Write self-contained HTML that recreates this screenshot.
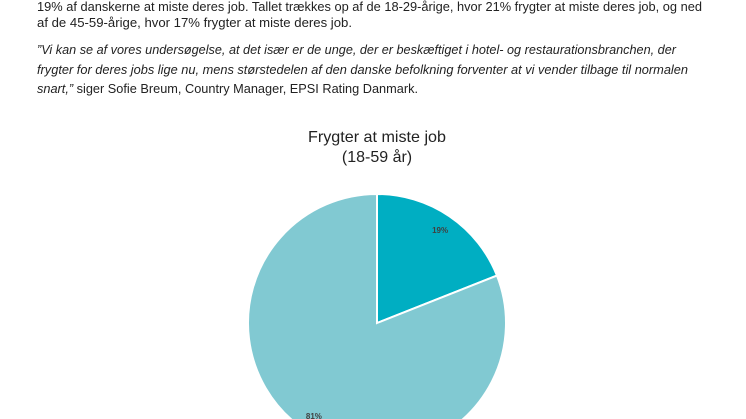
<!DOCTYPE html>
<html><head><meta charset="utf-8"><style>
html,body{margin:0;padding:0;background:#fff;width:746px;height:419px;overflow:hidden;}
svg{display:block;font-family:"Liberation Sans",sans-serif;}
</style></head><body>
<svg width="746" height="419" viewBox="0 0 746 419">
<g fill="#222" font-size="13">
<text x="37" y="11" textLength="665" lengthAdjust="spacingAndGlyphs">19% af danskerne at miste deres job. Tallet trækkes op af de 18-29-årige, hvor 21% frygter at miste deres job, og ned</text>
<text x="37" y="27" textLength="315" lengthAdjust="spacingAndGlyphs">af de 45-59-årige, hvor 17% frygter at miste deres job.</text>
<text x="37" y="54" font-style="italic" textLength="639" lengthAdjust="spacingAndGlyphs">”Vi kan se af vores undersøgelse, at det især er de unge, der er beskæftiget i hotel- og restaurationsbranchen, der</text>
<text x="37" y="74" font-style="italic" textLength="651" lengthAdjust="spacingAndGlyphs">frygter for deres jobs lige nu, mens størstedelen af den danske befolkning forventer at vi vender tilbage til normalen</text>
<text x="37" y="93" textLength="381" lengthAdjust="spacingAndGlyphs"><tspan font-style="italic">snart,”</tspan> siger Sofie Breum, Country Manager, EPSI Rating Danmark.</text>
</g>
<g fill="#222" font-size="16" text-anchor="middle">
<text x="377" y="142" textLength="138" lengthAdjust="spacingAndGlyphs">Frygter at miste job</text>
<text x="377" y="162">(18-59 år)</text>
</g>
<g id="pie"></g>
</svg>
<script>
const categories = ["Frygter", "Frygter ikke"];
const values = [19, 81];
const labels = ["19%", "81%"];
const colors = ["#00aec2", "#81c9d2"];
const cx = 377, cy = 323, r = 129;
const g = document.getElementById('pie');
const ns = 'http://www.w3.org/2000/svg';
const total = values.reduce((a, b) => a + b, 0);
let start = 0;
values.forEach((v, i) => {
  const a0 = start / total * 2 * Math.PI, a1 = (start + v) / total * 2 * Math.PI;
  const x0 = cx + r * Math.sin(a0), y0 = cy - r * Math.cos(a0);
  const x1 = cx + r * Math.sin(a1), y1 = cy - r * Math.cos(a1);
  const large = (a1 - a0) > Math.PI ? 1 : 0;
  const p = document.createElementNS(ns, 'path');
  p.setAttribute('d', `M${cx},${cy} L${x0},${y0} A${r},${r} 0 ${large} 1 ${x1},${y1} Z`);
  p.setAttribute('fill', colors[i]);
  p.setAttribute('stroke', '#fff');
  p.setAttribute('stroke-width', '2');
  
  
  g.appendChild(p);
  const am = (a0 + a1) / 2, lr = r * 0.87;
  const t = document.createElementNS(ns, 'text');
  t.setAttribute('x', cx + lr * Math.sin(am));
  t.setAttribute('y', cy - lr * Math.cos(am) + 3);
  t.setAttribute('text-anchor', 'middle');
  t.setAttribute('font-size', '8');
  t.setAttribute('font-weight', 'bold');
  t.setAttribute('fill', '#404040');
  t.textContent = labels[i];
  
  
  g.appendChild(t);
  start += v;
});
</script>
</body></html>
